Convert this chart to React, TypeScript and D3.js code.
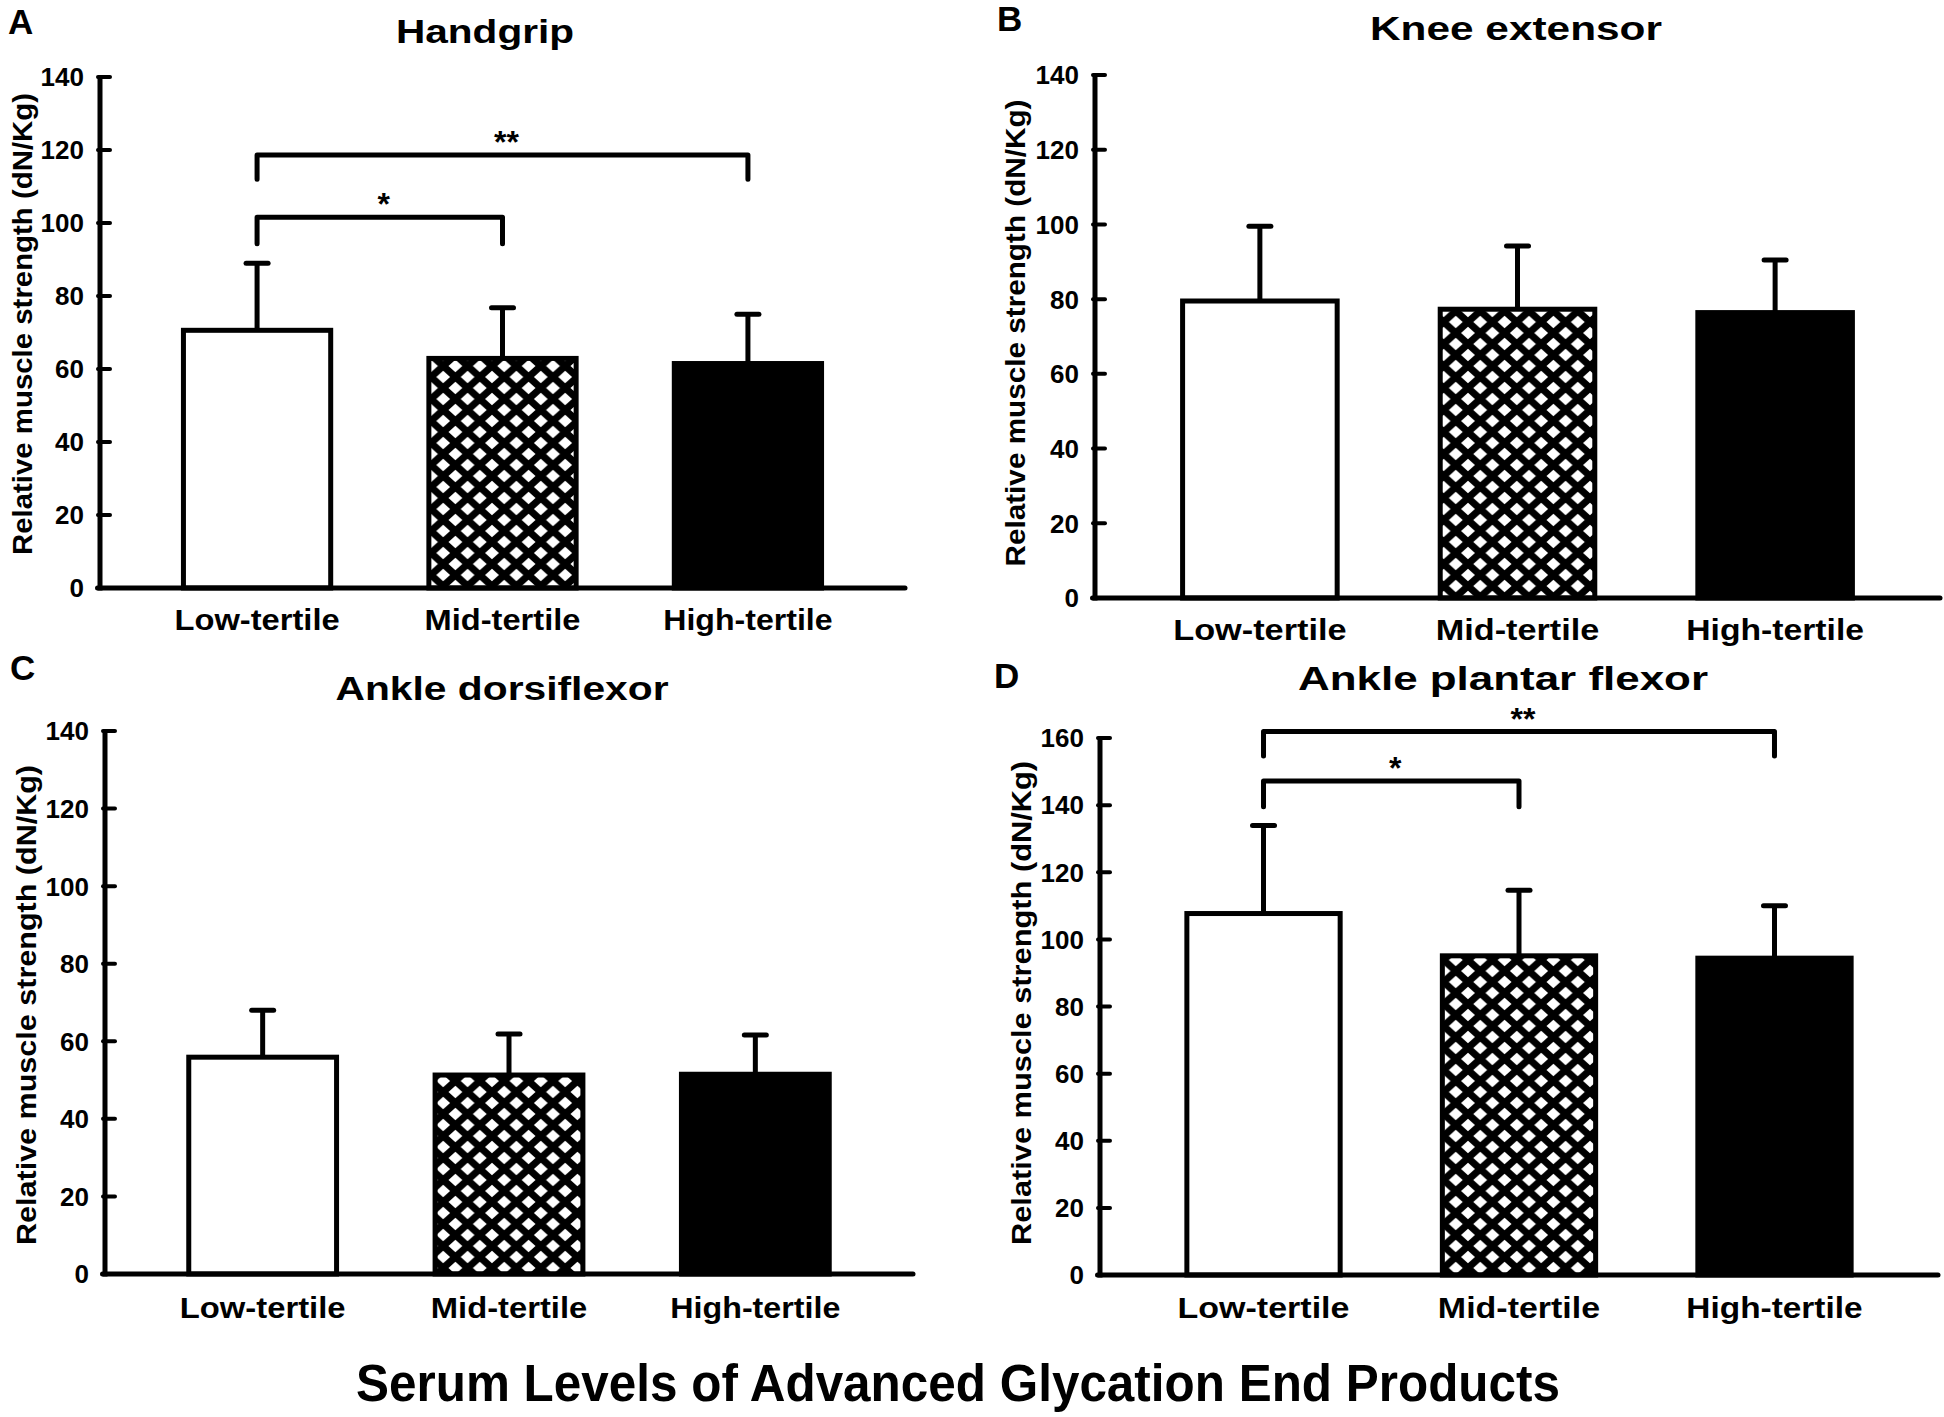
import React from "react";
import * as d3 from "d3";

// ---------- data ----------
const categories = ["Low-tertile", "Mid-tertile", "High-tertile"];

const handgripMean = [70.6, 62.9, 61.5];
const handgripSD = [18.4, 13.9, 13.5];

const kneeMean = [79.5, 77.3, 76.4];
const kneeSD = [20.0, 16.9, 14.1];

const dorsiMean = [55.9, 51.3, 51.5];
const dorsiSD = [12.1, 10.6, 10.1];

const plantarMean = [107.7, 95.1, 94.4];
const plantarSD = [26.2, 19.5, 15.6];

const ticks140 = [0, 20, 40, 60, 80, 100, 120, 140];
const ticks160 = [0, 20, 40, 60, 80, 100, 120, 140, 160];

const handgripSig = [
  { from: 0, to: 1, y: 101.6, leg: 94.3, label: "*" },
  { from: 0, to: 2, y: 118.6, leg: 112, label: "**" },
];
const plantarSig = [
  { from: 0, to: 1, y: 147.2, leg: 139.5, label: "*" },
  { from: 0, to: 2, y: 161.9, leg: 154.6, label: "**" },
];

const panelTitles = ["Handgrip", "Knee extensor", "Ankle dorsiflexor", "Ankle plantar flexor"];
const panelLetters = ["A", "B", "C", "D"];
const yAxisLabel = "Relative muscle strength (dN/Kg)";
const xAxisTitle = "Serum Levels of Advanced Glycation End Products";

// ---------- layout / style ----------
const FONT = "'Liberation Sans', Arial, Helvetica, sans-serif";
const SW = 5;
const fills = ["#ffffff", "url(#xhatch)", "#000000"];
const labelWidthFactor = [0.673, 0.635, 0.69];

const layouts = [
  { axisX: 100, axisEnd: 905, y0: 588, yTop: 77, yMax: 140, titleX: 485, titleY: 43, titleW: 178, letterX: 8, letterY: 34, catY: 630, ylabX: 22, ylabY: 324, ylabW: 462 },
  { axisX: 1095, axisEnd: 1940, y0: 598, yTop: 75, yMax: 140, titleX: 1516, titleY: 40, titleW: 292, letterX: 997, letterY: 31, catY: 640, ylabX: 1015, ylabY: 333, ylabW: 467 },
  { axisX: 105, axisEnd: 913, y0: 1274, yTop: 731, yMax: 140, titleX: 502, titleY: 700, titleW: 333, letterX: 10, letterY: 680, catY: 1318, ylabX: 26, ylabY: 1005, ylabW: 480 },
  { axisX: 1100, axisEnd: 1938, y0: 1275, yTop: 738, yMax: 160, titleX: 1503, titleY: 690, titleW: 410, letterX: 994, letterY: 688, catY: 1318, ylabX: 1021, ylabY: 1003, ylabW: 484 },
];

type Sig = { from: number; to: number; y: number; leg: number; label: string };

function Panel(props: {
  idx: number;
  means: number[];
  sds: number[];
  ticks: number[];
  sig: Sig[];
}) {
  const { idx, means, sds, ticks, sig } = props;
  const L = layouts[idx];
  const y = d3.scaleLinear().domain([0, L.yMax]).range([L.y0, L.yTop]);
  const x = d3
    .scaleBand<string>()
    .domain(categories)
    .range([L.axisX, L.axisEnd])
    .paddingInner(0.4)
    .paddingOuter(0.34);
  const bw = x.bandwidth();
  const step = x.step();
  const cx = (c: string) => (x(c) as number) + bw / 2;

  return (
    <g>
      <text x={L.letterX} y={L.letterY} fontFamily={FONT} fontWeight="bold" fontSize={35} fill="#000">
        {panelLetters[idx]}
      </text>
      <text
        x={L.titleX}
        y={L.titleY}
        textAnchor="middle"
        fontFamily={FONT}
        fontWeight="bold"
        fontSize={34}
        textLength={L.titleW}
        lengthAdjust="spacingAndGlyphs"
      >
        {panelTitles[idx]}
      </text>
      <text
        transform={`translate(${L.ylabX},${L.ylabY}) rotate(-90)`}
        textAnchor="middle"
        dy="0.36em"
        fontFamily={FONT}
        fontWeight="bold"
        fontSize={27}
        textLength={L.ylabW}
        lengthAdjust="spacingAndGlyphs"
      >
        {yAxisLabel}
      </text>

      {categories.map((c, i) => (
        <rect
          key={c}
          x={x(c)}
          y={y(means[i])}
          width={bw}
          height={L.y0 - y(means[i])}
          fill={fills[i]}
          stroke="#000"
          strokeWidth={SW}
        />
      ))}
      {categories.map((c, i) => (
        <g key={"e" + c} stroke="#000" strokeWidth={SW}>
          <line x1={cx(c)} x2={cx(c)} y1={y(means[i])} y2={y(means[i] + sds[i])} />
          <line x1={cx(c) - 11} x2={cx(c) + 11} y1={y(means[i] + sds[i])} y2={y(means[i] + sds[i])} strokeLinecap="round" />
        </g>
      ))}

      <line x1={L.axisX} x2={L.axisX} y1={L.y0 + SW / 2} y2={y(L.yMax) - 1} stroke="#000" strokeWidth={SW} />
      {ticks.map((t) => (
        <g key={"t" + t}>
          {t > 0 && (
            <line x1={L.axisX - 2} x2={L.axisX + 10} y1={y(t)} y2={y(t)} stroke="#000" strokeWidth={4} strokeLinecap="round" />
          )}
          <text
            x={L.axisX - 16}
            y={y(t)}
            dy="0.36em"
            textAnchor="end"
            fontFamily={FONT}
            fontWeight="bold"
            fontSize={26}
          >
            {t}
          </text>
        </g>
      ))}
      <line x1={L.axisX - SW / 2} x2={L.axisEnd} y1={L.y0} y2={L.y0} stroke="#000" strokeWidth={SW} strokeLinecap="round" />
      {categories.map((c, i) => (
        <text
          key={"c" + c}
          x={cx(c)}
          y={L.catY}
          textAnchor="middle"
          fontFamily={FONT}
          fontWeight="bold"
          fontSize={29}
          textLength={step * labelWidthFactor[i]}
          lengthAdjust="spacingAndGlyphs"
        >
          {c}
        </text>
      ))}

      {sig.map((s, k) => {
        const x1 = cx(categories[s.from]);
        const x2 = cx(categories[s.to]);
        return (
          <g key={"s" + k}>
            <path
              d={`M${x1},${y(s.leg)}V${y(s.y)}H${x2}V${y(s.leg)}`}
              fill="none"
              stroke="#000"
              strokeWidth={SW}
              strokeLinecap="round"
              strokeLinejoin="round"
            />
            <text
              x={(x1 + x2) / 2 + 4}
              y={y(s.y) - 2}
              textAnchor="middle"
              fontFamily={FONT}
              fontWeight="bold"
              fontSize={32}
            >
              {s.label}
            </text>
          </g>
        );
      })}
    </g>
  );
}

export default function App() {
  const pw = 24.4;
  const ph = 22;
  const a = 6.9;
  const b = 6.2;
  const diamond = (dx: number, dy: number) =>
    `${dx - a},${dy} ${dx},${dy - b} ${dx + a},${dy} ${dx},${dy + b}`;
  return (
    <svg
      width={1944}
      height={1417}
      viewBox="0 0 1944 1417"
      style={{ position: "absolute", left: 0, top: 0, background: "#fff" }}
    >
      <defs>
        <pattern id="xhatch" patternUnits="userSpaceOnUse" width={pw} height={ph} x={4} y={3}>
          <rect width={pw} height={ph} fill="#000" />
          {[
            [0, 0],
            [pw, 0],
            [0, ph],
            [pw, ph],
            [pw / 2, ph / 2],
          ].map(([dx, dy], i) => (
            <polygon key={i} points={diamond(dx, dy)} fill="#fff" />
          ))}
        </pattern>
      </defs>
      <rect width={1944} height={1417} fill="#fff" />
      <Panel idx={0} means={handgripMean} sds={handgripSD} ticks={ticks140} sig={handgripSig} />
      <Panel idx={1} means={kneeMean} sds={kneeSD} ticks={ticks140} sig={[]} />
      <Panel idx={2} means={dorsiMean} sds={dorsiSD} ticks={ticks140} sig={[]} />
      <Panel idx={3} means={plantarMean} sds={plantarSD} ticks={ticks160} sig={plantarSig} />
      <text
        x={958}
        y={1401}
        textAnchor="middle"
        fontFamily={FONT}
        fontWeight="bold"
        fontSize={51}
        textLength={1204}
        lengthAdjust="spacingAndGlyphs"
      >
        {xAxisTitle}
      </text>
    </svg>
  );
}
